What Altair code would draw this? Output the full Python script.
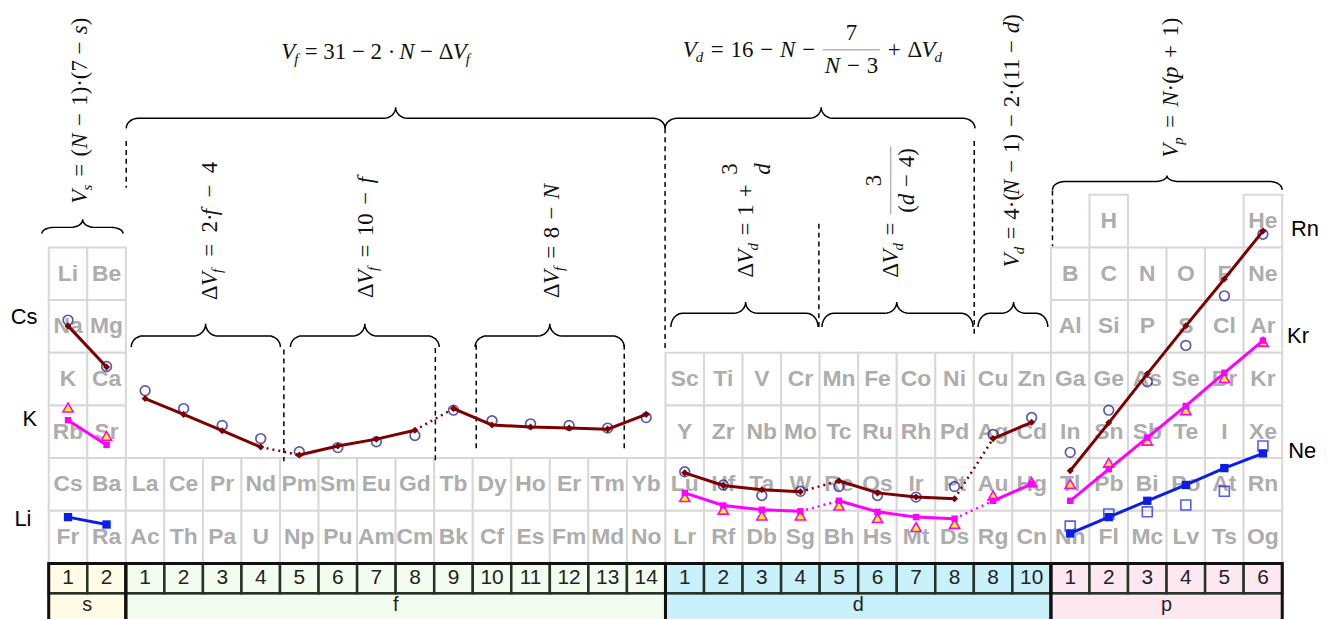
import math
import altair as alt
import numpy as np
import pandas as pd

# ------------------------------------------------------------------ data
S_ELEMENTS = [["Li", "Be"], ["Na", "Mg"], ["K", "Ca"], ["Rb", "Sr"], ["Cs", "Ba"], ["Fr", "Ra"]]
F_ELEMENTS = [["La", "Ce", "Pr", "Nd", "Pm", "Sm", "Eu", "Gd", "Tb", "Dy", "Ho", "Er", "Tm", "Yb"],
              ["Ac", "Th", "Pa", "U", "Np", "Pu", "Am", "Cm", "Bk", "Cf", "Es", "Fm", "Md", "No"]]
D_ELEMENTS = [["Sc", "Ti", "V", "Cr", "Mn", "Fe", "Co", "Ni", "Cu", "Zn"],
              ["Y", "Zr", "Nb", "Mo", "Tc", "Ru", "Rh", "Pd", "Ag", "Cd"],
              ["Lu", "Hf", "Ta", "W", "Re", "Os", "Ir", "Pt", "Au", "Hg"],
              ["Lr", "Rf", "Db", "Sg", "Bh", "Hs", "Mt", "Ds", "Rg", "Cn"]]
P_ELEMENTS = [["", "H", "", "", "", "He"],
              ["B", "C", "N", "O", "F", "Ne"],
              ["Al", "Si", "P", "S", "Cl", "Ar"],
              ["Ga", "Ge", "As", "Se", "Br", "Kr"],
              ["In", "Sn", "Sb", "Te", "I", "Xe"],
              ["Tl", "Pb", "Bi", "Po", "At", "Rn"],
              ["Nh", "Fl", "Mc", "Lv", "Ts", "Og"]]

BLOCKS = ["s", "f", "d", "p"]
BLOCK_START = {"s": 0, "f": 2, "d": 16, "p": 26}
BLOCK_TOP_ROW = {"s": 5, "f": 1, "d": 3, "p": 6}
BLOCK_COLORS = {"s": "#fffbe4", "f": "#f2fdef", "d": "#c9f1fc", "p": "#fde8f2"}
S_NUMS = ["1", "2"]
F_NUMS = ["1", "2", "3", "4", "5", "6", "7", "8", "9", "10", "11", "12", "13", "14"]
D_NUMS = ["1", "2", "3", "4", "5", "6", "7", "8", "8", "10"]
P_NUMS = ["1", "2", "3", "4", "5", "6"]

# series values (in row units of the table)
CS_S = [4.51, 3.73]
CS_F = [3.13, 2.83, 2.52, 2.21, 2.06, 2.23, 2.36, 2.53, 2.94, 2.63, 2.59, 2.57, 2.55, 2.83]
CS_D = [1.72, 1.48, 1.40, 1.36, 1.57, 1.34, 1.26, 1.23, 2.37, 2.68]
CS_P = [1.76, 2.67, 3.60, 4.51, 5.40, 6.31]
CIRC_S = [4.62, 3.74]
CIRC_F = [3.28, 2.94, 2.62, 2.37, 2.12, 2.20, 2.31, 2.43, 2.91, 2.71, 2.65, 2.62, 2.57, 2.77]
CIRC_D = [1.74, 1.49, 1.29, 1.37, 1.46, 1.29, 1.26, 1.46, 2.45, 2.77]
CIRC_P = [2.11, 2.91, 3.45, 4.14, 5.08, 6.25]
K_S = [2.72, 2.25]
K_D = [1.34, 1.10, 1.02, 0.99, 1.19, 0.98, 0.88, 0.85, 1.19, 1.51]
K_P = [1.19, 1.79, 2.39, 2.99, 3.62, 4.23]
TRI_S = [2.96, 2.42]
TRI_D = [1.26, 1.02, 0.91, 0.91, 1.10, 0.86, 0.69, 0.75, 1.29, 1.54]
TRI_P = [1.51, 1.91, 2.33, 2.91, 3.52, 4.21]
LI_S = [0.88, 0.74]
LI_P = [0.57, 0.88, 1.19, 1.49, 1.81, 2.09]
SQ_P = [0.71, 0.94, 0.98, 1.11, 1.37, 2.23]

CS_RUNS = {"s": [(0, 1)], "f": [(0, 3), (4, 7), (8, 13)], "d": [(0, 3), (4, 7), (8, 9)], "p": [(0, 5)]}
K_RUNS = {"s": [(0, 1)], "d": [(0, 3), (4, 7), (8, 9)], "p": [(0, 5)]}
LI_RUNS = {"s": [(0, 1)], "p": [(0, 5)]}

SERIES_LABELS = [("Cs", -0.64, 4.68), ("K", -0.49, 2.75), ("Li", -0.67, 0.85),
                 ("Rn", 32.59, 6.34), ("Kr", 32.41, 4.32), ("Ne", 32.52, 2.13)]

# braces: x start, x end, x tip, y ends, y flat, y tip
BRACES = [(-0.18, 1.93, 0.88, 6.26, 6.38, 6.53),
          (2.01, 15.99, 9.00, 8.26, 8.45, 8.66),
          (15.99, 24.03, 20.04, 8.26, 8.45, 8.66),
          (26.04, 32.00, 29.01, 7.09, 7.25, 7.36),
          (2.14, 6.01, 4.07, 4.11, 4.32, 4.55),
          (6.27, 10.13, 8.20, 4.11, 4.32, 4.55),
          (11.06, 14.93, 13.00, 4.11, 4.32, 4.55),
          (16.14, 19.96, 18.08, 4.49, 4.75, 4.96),
          (20.06, 23.98, 22.00, 4.49, 4.75, 4.96),
          (24.11, 25.92, 25.03, 4.49, 4.75, 4.96)]

# dashed separators: x, y top, y bottom
DASHES = [(2.01, 8.02, 7.13), (6.10, 4.06, 1.94), (10.03, 4.09, 1.94),
          (11.09, 4.15, 2.17), (14.93, 4.15, 2.17), (15.99, 8.26, 4.09),
          (19.98, 6.45, 4.43), (24.01, 8.02, 4.34), (26.04, 7.08, 6.02)]

# formulas: pieces, x, y, angle, font size, spacing factor
F1 = [("V", "i"), ("f", "sub"), (" = 31 − 2 · ", "r"), ("N", "i"), (" − Δ", "r"), ("V", "i"), ("f", "sub")]
F2 = [("V", "i"), ("d", "sub"), (" = 16 − ", "r"), ("N", "i"), (" − ", "r"),
      ([("7", "r")], "frac", [("N", "i"), (" − 3", "r")], True),
      (" + Δ", "r"), ("V", "i"), ("d", "sub")]
F3 = [("V", "i"), ("s", "sub"), (" = (", "r"), ("N", "i"), (" − 1)·(7 − ", "r"), ("s", "i"), (")", "r")]
F4 = [("Δ", "r"), ("V", "i"), ("f", "sub"), (" = 2·", "r"), ("f", "i"), (" − 4", "r")]
F5 = [("Δ", "r"), ("V", "i"), ("f", "sub"), (" = 10 − ", "r"), ("f", "i")]
F6 = [("Δ", "r"), ("V", "i"), ("f", "sub"), (" = 8 − ", "r"), ("N", "i")]
F7 = [("Δ", "r"), ("V", "i"), ("d", "sub"), (" = 1 + ", "r"), ([("3", "r")], "frac", [("d", "i")], False)]
F8 = [("Δ", "r"), ("V", "i"), ("d", "sub"), (" = ", "r"),
      ([("3", "r")], "frac", [("(", "r"), ("d", "i"), (" − 4)", "r")], True)]
F9 = [("V", "i"), ("d", "sub"), (" = 4·(", "r"), ("N", "i"), (" − 1) − 2·(11 − ", "r"), ("d", "i"), (")", "r")]
F10 = [("V", "i"), ("p", "sub"), (" = ", "r"), ("N", "i"), ("·(", "r"), ("p", "i"), (" + 1)", "r")]
FORMULAS = [(F1, 6.03, 9.58, 0, 23, 1.0), (F2, 16.45, 9.62, 0, 23, 1.2),
            (F3, 0.98, 6.83, 270, 23, 1.3), (F4, 4.36, 5.00, 270, 23, 2.0),
            (F5, 8.41, 5.04, 270, 23, 1.5), (F6, 13.25, 5.04, 270, 23, 1.3),
            (F7, 18.28, 5.43, 270, 23, 1.2), (F8, 22.02, 5.43, 270, 23, 1.2),
            (F9, 25.17, 5.62, 270, 23, 1.2), (F10, 29.29, 7.70, 270, 23, 1.5)]

# ------------------------------------------------------------------ geometry of the scales
CW = 38.78   # px per column unit
RH = 53.0    # px per row unit
W, H = 1323, 611
XMIN = -1.057
XMAX = XMIN + W / CW
YMIN = -1.019
YMAX = YMIN + H / RH

xs = alt.Scale(domain=[XMIN, XMAX], nice=False, zero=False)
ys = alt.Scale(domain=[YMIN, YMAX], nice=False, zero=False)


def X(f):
    return alt.X(f, type="quantitative", scale=xs, axis=None)


def Y(f):
    return alt.Y(f, type="quantitative", scale=ys, axis=None)


SANS = "Liberation Sans, Arial, sans-serif"
NARROW = "Liberation Sans Narrow, Arial Narrow, Liberation Sans, sans-serif"
SERIF = "Liberation Serif, Times New Roman, serif"

# ------------------------------------------------------------------ element cells
cells = []
for b, rows in zip(BLOCKS, [S_ELEMENTS, F_ELEMENTS, D_ELEMENTS, P_ELEMENTS]):
    for r, row in enumerate(rows):
        for c, sym in enumerate(row):
            if not sym:
                continue
            x0 = BLOCK_START[b] + c
            y0 = BLOCK_TOP_ROW[b] - r
            cells.append(dict(x0=x0, x1=x0 + 1, y0=y0, y1=y0 + 1, xc=x0 + 0.5, yc=y0 + 0.5, sym=sym))
cells = pd.DataFrame(cells)

cell_rect = alt.Chart(cells).mark_rect(fill="white", stroke="#d8d8d8", strokeWidth=2).encode(
    x=X("x0"), x2="x1", y=Y("y0"), y2="y1")
cell_text = alt.Chart(cells).mark_text(font=NARROW, fontSize=23, fontWeight="bold", color="#adadad",
                                       baseline="middle", align="center").encode(
    x=X("xc"), y=Y("yc"), text="sym:N")

# ------------------------------------------------------------------ bottom strip
NUM_ROW_BOTTOM = -0.566
strip = []
blocks_df = []
for b, nums in zip(BLOCKS, [S_NUMS, F_NUMS, D_NUMS, P_NUMS]):
    st = BLOCK_START[b]
    for i, n in enumerate(nums):
        strip.append(dict(x0=st + i, x1=st + i + 1, xc=st + i + 0.5, y0=NUM_ROW_BOTTOM, y1=0.0,
                          yc=NUM_ROW_BOTTOM / 2, label=n, fill=BLOCK_COLORS[b]))
    blocks_df.append(dict(x0=st, x1=st + len(nums), xc=st + len(nums) / 2, y0=-1.1, y1=NUM_ROW_BOTTOM,
                          yt=-0.79, ytop=0.0, label=b, fill=BLOCK_COLORS[b]))
strip = pd.DataFrame(strip)
blocks_df = pd.DataFrame(blocks_df)

blk_rect = alt.Chart(blocks_df).mark_rect(stroke="#1a1a1a", strokeWidth=2).encode(
    x=X("x0"), x2="x1", y=Y("y0"), y2="y1", fill=alt.Fill("fill:N", scale=None))
num_rect = alt.Chart(strip).mark_rect(stroke="#263326", strokeWidth=2.5).encode(
    x=X("x0"), x2="x1", y=Y("y0"), y2="y1", fill=alt.Fill("fill:N", scale=None))
blk_outline = alt.Chart(blocks_df).mark_rect(fill=None, stroke="#111111", strokeWidth=3).encode(
    x=X("x0"), x2="x1", y=Y("y0"), y2="ytop")
num_text = alt.Chart(strip).mark_text(font=SANS, fontSize=21, color="#222222", baseline="middle").encode(
    x=X("xc"), y=Y("yc"), text="label:N")
blk_text = alt.Chart(blocks_df).mark_text(font=SANS, fontSize=20, color="#222222", baseline="middle").encode(
    x=X("xc"), y=Y("yt"), text="label:N")

# ------------------------------------------------------------------ series
def series_frames(name, vals, runs):
    solid, dotted, pts = [], [], []
    for b, v in vals.items():
        st = BLOCK_START[b]
        for i, y in enumerate(v):
            pts.append(dict(x=st + i + 0.5, y=y))
        rr = runs[b]
        for k, (a, e) in enumerate(rr):
            for i in range(a, e + 1):
                solid.append(dict(x=st + i + 0.5, y=v[i], seg=f"{name}-{b}-{k}", o=i))
            if k + 1 < len(rr):
                n0 = rr[k + 1][0]
                dotted.append(dict(x=st + e + 0.5, y=v[e], seg=f"{name}-{b}-d{k}", o=0))
                dotted.append(dict(x=st + n0 + 0.5, y=v[n0], seg=f"{name}-{b}-d{k}", o=1))
    return pd.DataFrame(solid), pd.DataFrame(dotted), pd.DataFrame(pts)


def points(vals):
    rows = []
    for b, v in vals.items():
        for i, y in enumerate(v):
            rows.append(dict(x=BLOCK_START[b] + i + 0.5, y=y))
    return pd.DataFrame(rows)


DARK = "#7d0000"
MAG = "#ff00ff"
BLUE = "#0a1ee6"

cs_solid, cs_dot, cs_pts = series_frames("Cs", {"s": CS_S, "f": CS_F, "d": CS_D, "p": CS_P}, CS_RUNS)
k_solid, k_dot, k_pts = series_frames("K", {"s": K_S, "d": K_D, "p": K_P}, K_RUNS)
li_solid, li_dot, li_pts = series_frames("Li", {"s": LI_S, "p": LI_P}, LI_RUNS)

circ = points({"s": CIRC_S, "f": CIRC_F, "d": CIRC_D, "p": CIRC_P})
tri = points({"s": TRI_S, "d": TRI_D, "p": TRI_P})
sq = points({"p": SQ_P})

layers_series = [
    alt.Chart(circ).mark_point(shape="circle", filled=False, color="#14148c", size=95, strokeWidth=1.7).encode(
        x=X("x"), y=Y("y")),
    alt.Chart(tri).mark_point(shape="triangle-up", filled=True, fill="#ffff00", stroke=MAG, strokeWidth=1.6,
                              size=105, opacity=1).encode(x=X("x"), y=Y("y")),
    alt.Chart(sq).mark_point(shape="square", filled=False, color=BLUE, size=100, strokeWidth=1.6).encode(
        x=X("x"), y=Y("y")),
]
for solid, dot, pts, col, shape, msize in [(cs_solid, cs_dot, cs_pts, DARK, "diamond", 50),
                                           (k_solid, k_dot, k_pts, MAG, "square", 42),
                                           (li_solid, li_dot, li_pts, BLUE, "square", 70)]:
    layers_series.append(alt.Chart(solid).mark_line(color=col, strokeWidth=3).encode(
        x=X("x"), y=Y("y"), detail="seg:N", order="o:Q"))
    if len(dot):
        layers_series.append(alt.Chart(dot).mark_line(color=col, strokeWidth=2.5, strokeDash=[2, 4]).encode(
            x=X("x"), y=Y("y"), detail="seg:N", order="o:Q"))
    layers_series.append(alt.Chart(pts).mark_point(shape=shape, filled=True, color=col, size=msize, opacity=1).encode(
        x=X("x"), y=Y("y")))

labels_df = pd.DataFrame([dict(t=t, x=x, y=y) for t, x, y in SERIES_LABELS])
labels = alt.Chart(labels_df).mark_text(font=SANS, fontSize=22, color="black", baseline="middle").encode(
    x=X("x"), y=Y("y"), text="t:N")

# ------------------------------------------------------------------ braces
brace_rows = []
r = 12.0 / CW
ts = np.linspace(0, math.pi / 2, 9)
for k, (x0, x1, xm, ye, yf, yt) in enumerate(BRACES):
    pts_b = []
    pts_b += [(x0 + r * (1 - math.cos(t)), ye + (yf - ye) * math.sin(t)) for t in ts]
    pts_b += [(xm - r + r * math.sin(t), yf + (yt - yf) * (1 - math.cos(t))) for t in ts]
    pts_b += [(xm + r * (1 - math.cos(t)), yt + (yf - yt) * math.sin(t)) for t in ts]
    pts_b += [(x1 - r + r * math.sin(t), yf + (ye - yf) * (1 - math.cos(t))) for t in ts]
    for o, (bx, by) in enumerate(pts_b):
        brace_rows.append(dict(x=bx, y=by, b=k, o=o))
braces = alt.Chart(pd.DataFrame(brace_rows)).mark_line(color="black", strokeWidth=1.5).encode(
    x=X("x"), y=Y("y"), detail="b:N", order="o:Q")

dash_df = pd.DataFrame([dict(x=x, y=a, y2=b) for x, a, b in DASHES])
dashes = alt.Chart(dash_df).mark_rule(color="black", strokeWidth=1.5, strokeDash=[5, 4]).encode(
    x=X("x"), y=Y("y"), y2="y2")

# ------------------------------------------------------------------ formulas
W_ROMAN = {" ": 0.25, "(": 0.333, ")": 0.333, "+": 0.564, "=": 0.564, "−": 0.564, "·": 0.25, "Δ": 0.612}
W_ITALIC = {"V": 0.611, "N": 0.667, "f": 0.278, "d": 0.5, "s": 0.389, "p": 0.5}


def tok_w(tok, italic):
    table = W_ITALIC if italic else W_ROMAN
    return sum(table.get(ch, 0.5) for ch in tok)


def place(seq, pos, perp, fs, sp, out, bars):
    for piece in seq:
        kind = piece[1]
        if kind == "frac":
            num, den, bar = piece[0], piece[2], piece[3]
            wn = place(num, 0.0, 0.0, fs, sp, [], [])
            wd = place(den, 0.0, 0.0, fs, sp, [], [])
            w = max(wn, wd) + 0.25 * fs
            place(num, pos + (w - wn) / 2, perp + 0.72 * fs, fs, sp, out, bars)
            place(den, pos + (w - wd) / 2, perp - 0.72 * fs, fs, sp, out, bars)
            if bar:
                bars.append((pos + 0.05 * fs, pos + w - 0.05 * fs, perp + 0.3 * fs))
            pos += w
        elif kind == "sub":
            sfs = 0.65 * fs
            pos -= 0.04 * fs
            out.append(dict(t=piece[0], it=True, fs=sfs, a=pos, p=perp - 0.22 * fs))
            pos += tok_w(piece[0], True) * sfs + 0.03 * fs
        else:
            it = kind == "i"
            toks = piece[0].split(" ")
            for k, tok in enumerate(toks):
                if k > 0:
                    pos += 0.25 * fs * sp
                if tok:
                    out.append(dict(t=tok, it=it, fs=fs, a=pos, p=perp))
                    pos += tok_w(tok, it) * fs
    return pos


ftext, fbars = [], []
for pieces, fx, fy, ang, fs, sp in FORMULAS:
    out, bars = [], []
    place(pieces, 0.0, 0.0, fs, sp, out, bars)
    for it in out:
        if ang == 0:
            x, y = fx + it["a"] / CW, fy + it["p"] / RH
        else:
            x, y = fx - it["p"] / CW, fy + it["a"] / RH
        ftext.append(dict(x=x, y=y, t=it["t"], fs=it["fs"], it=it["it"], ang=ang))
    for a1, a2, bp in bars:
        if ang == 0:
            fbars.append(dict(x=fx + a1 / CW, x2=fx + a2 / CW, y=fy + bp / RH, y2=fy + bp / RH))
        else:
            fbars.append(dict(x=fx - bp / CW, x2=fx - bp / CW, y=fy + a1 / RH, y2=fy + a2 / RH))
ftext = pd.DataFrame(ftext)
fbars = pd.DataFrame(fbars)

formula_layers = []
for ital in [False, True]:
    for ang in [0, 270]:
        sub = ftext[(ftext["it"] == ital) & (ftext["ang"] == ang)]
        if len(sub) == 0:
            continue
        formula_layers.append(
            alt.Chart(sub).mark_text(font=SERIF, fontStyle="italic" if ital else "normal", angle=ang,
                                     align="left", baseline="alphabetic", color="#111111").encode(
                x=X("x"), y=Y("y"), text="t:N", size=alt.Size("fs:Q", scale=None)))
bars_layer = alt.Chart(fbars).mark_rule(color="#b5b5b5", strokeWidth=1.5).encode(
    x=X("x"), x2="x2", y=Y("y"), y2="y2")

chart = alt.layer(
    cell_rect, cell_text,
    blk_rect, num_rect, blk_outline, num_text, blk_text,
    dashes, braces, bars_layer, *formula_layers,
    *layers_series, labels,
).properties(width=W, height=H, padding=0, autosize="none").configure_view(stroke=None)

chart.save("out.html", embed_options={"renderer": "svg", "actions": False})
